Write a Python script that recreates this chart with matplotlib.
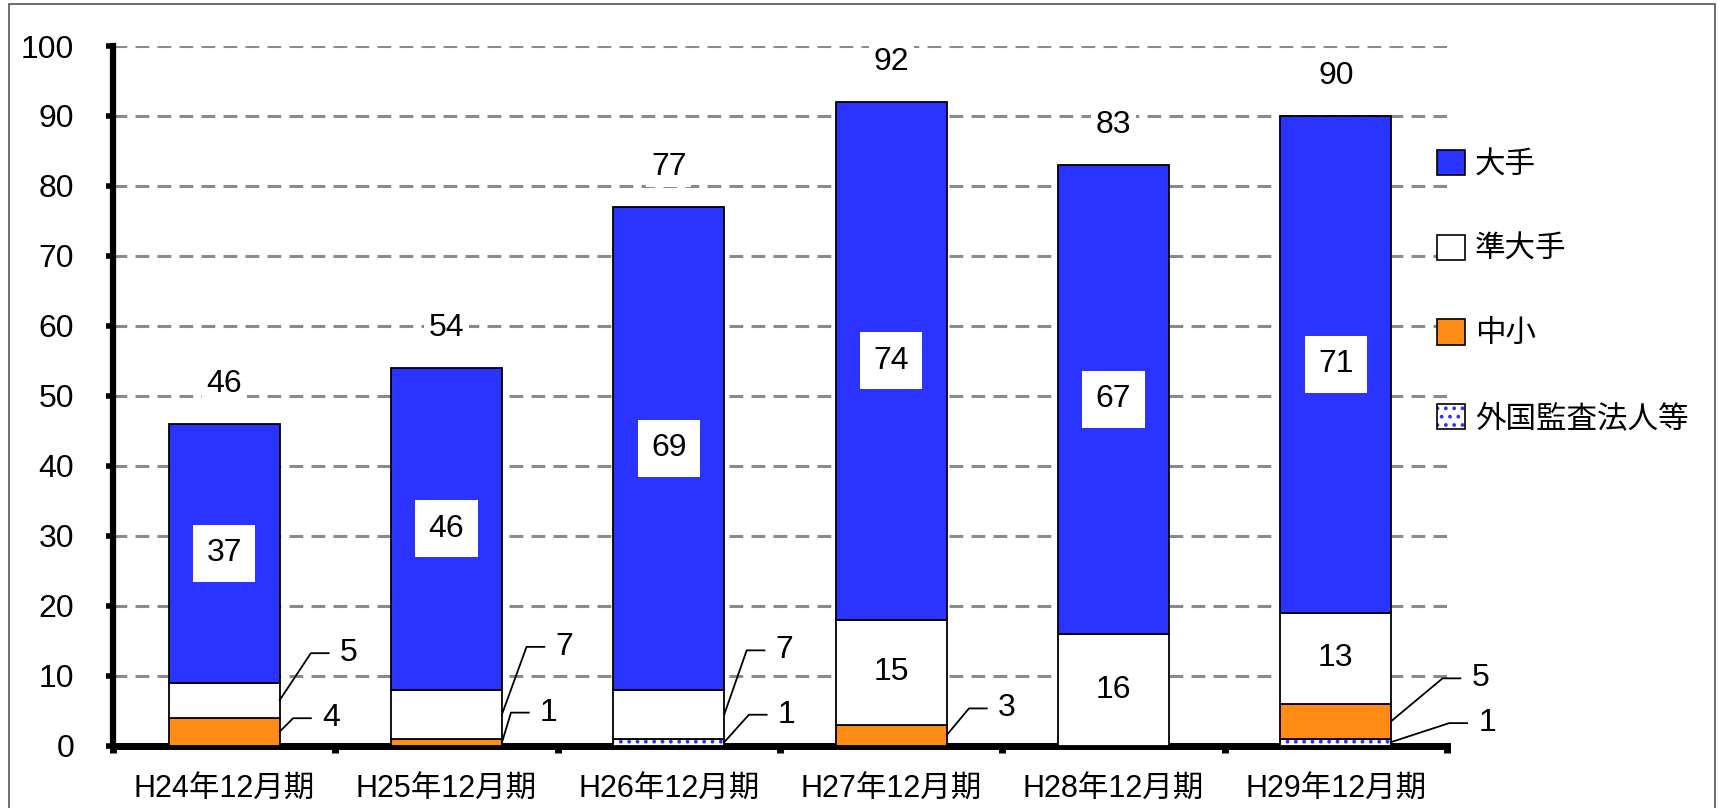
import matplotlib
matplotlib.use('Agg')
import matplotlib.pyplot as plt
from matplotlib import font_manager
from matplotlib.patches import Patch, Rectangle
import numpy as np

# フォント (数字は細め, 漢字は Noto CJK)
names = {f.name for f in font_manager.fontManager.ttflist}
num_font = 'Liberation Sans Narrow' if 'Liberation Sans Narrow' in names else 'Liberation Sans'
plt.rcParams['font.family'] = [num_font, 'Noto Sans CJK JP', 'DejaVu Sans']
plt.rcParams['hatch.linewidth'] = 1.5

# データ
categories = ['H24年12月期', 'H25年12月期', 'H26年12月期', 'H27年12月期', 'H28年12月期', 'H29年12月期']
ote = [37, 46, 69, 74, 67, 71]        # 大手
jun_ote = [5, 7, 7, 15, 16, 13]       # 準大手
chusho = [4, 1, 0, 3, 0, 5]           # 中小
gaikoku = [0, 0, 1, 0, 0, 1]          # 外国監査法人等

c_blue = '#2A33FF'
c_orange = '#FF8A14'
FS = 22     # 漢字
FN = 23     # 数字

x = np.arange(len(categories))
w = 0.5

fig = plt.figure(figsize=(17.19, 8.08), dpi=100)
ax = fig.add_axes([113 / 1719, 1 - 745.5 / 808, (1447 - 113) / 1719, (745.5 - 46) / 808])

# 枠線
fig.patches.append(Rectangle((9 / 1719, -0.01), (1715 - 9) / 1719, 1.01 - 4 / 808,
                             transform=fig.transFigure, fill=False, edgecolor='#555555', lw=1.2))

# 積み上げ
b0 = np.zeros(len(x))
ax.bar(x, gaikoku, w, bottom=b0, color='white', edgecolor=c_blue, hatch='..', lw=0, zorder=3)
ax.bar(x, gaikoku, w, bottom=b0, fill=False, edgecolor='black', lw=1.3, zorder=3)
b1 = b0 + np.array(gaikoku)
ax.bar(x, chusho, w, bottom=b1, color=c_orange, edgecolor='black', lw=1.3, zorder=3)
b2 = b1 + np.array(chusho)
ax.bar(x, jun_ote, w, bottom=b2, color='white', edgecolor='black', lw=1.3, zorder=3)
b3 = b2 + np.array(jun_ote)
ax.bar(x, ote, w, bottom=b3, color=c_blue, edgecolor='black', lw=1.3, zorder=3)
totals = b3 + np.array(ote)

# 大手ラベル (白ボックス), 合計
for i in x:
    ax.text(i, b3[i] + ote[i] / 2, str(ote[i]), ha='center', va='center', fontsize=FN, zorder=5,
            bbox=dict(boxstyle='square,pad=0.42', fc='white', ec='none'))
    ax.text(i, totals[i] + 5.7, str(int(totals[i])), ha='center', va='center', fontsize=FN, zorder=5,
            bbox=dict(boxstyle='square,pad=0.15', fc='white', ec='none'))
    if jun_ote[i] >= 10:
        ax.text(i, b2[i] + jun_ote[i] / 2, str(jun_ote[i]), ha='center', va='center', fontsize=FN, zorder=5)

# 引き出し線ラベル: (カテゴリ, 系列, 文字の横位置, 文字の縦位置)
series = {'jun': (jun_ote, b2), 'chu': (chusho, b1), 'gai': (gaikoku, b0)}
callouts = [(0, 'jun', 0.56, 13.2), (0, 'chu', 0.48, 3.9),
            (1, 'jun', 0.53, 14.1), (1, 'chu', 0.46, 4.7),
            (2, 'jun', 0.52, 13.6), (2, 'gai', 0.53, 4.4),
            (3, 'chu', 0.52, 5.3),
            (5, 'chu', 0.65, 9.6), (5, 'gai', 0.68, 3.2)]
for i, key, dx, ty in callouts:
    vals, base = series[key]
    y0 = base[i] + vals[i] / 2
    ax.plot([i + w / 2, i + dx - 0.17, i + dx - 0.09], [y0, ty, ty], color='black', lw=1.3,
            zorder=4, clip_on=False)
    ax.text(i + dx, ty, str(vals[i]), ha='center', va='center', fontsize=FN, zorder=5,
            bbox=dict(boxstyle='square,pad=0.1', fc='white', ec='none'))

# 軸
ax.set_xlim(-0.5, 5.5)
ax.set_ylim(0, 100)
ax.set_yticks(np.arange(0, 101, 10))
ax.yaxis.grid(True, color='#8a8a8a', lw=2.2, dashes=(4.5, 2.7), zorder=0)
ax.set_axisbelow(True)
ax.set_xticks(x)
ax.set_xticklabels(categories, fontsize=FS)
ax.set_xticks(np.arange(-0.5, 6, 1), minor=True)
ax.tick_params(axis='x', which='major', length=0, pad=21)
ax.tick_params(axis='x', which='minor', length=5, width=5, direction='out')
ax.tick_params(axis='y', length=5, width=4, direction='out', labelsize=FN, pad=23)
for s in ['top', 'right']:
    ax.spines[s].set_visible(False)
ax.spines['left'].set_linewidth(4.5)
ax.spines['bottom'].set_linewidth(5)

# 凡例
handles = [Patch(facecolor=c_blue, edgecolor='black', lw=1.2),
           Patch(facecolor='white', edgecolor='black', lw=1.2),
           Patch(facecolor=c_orange, edgecolor='black', lw=1.2),
           (Patch(facecolor='white', edgecolor=c_blue, hatch='..', lw=0),
            Patch(fill=False, edgecolor='black', lw=1.2))]
labels = ['大手', '準大手', '中小', '外国監査法人等']
fig.legend(handles, labels, loc='upper left', bbox_to_anchor=(1437 / 1719, 1 - 150 / 808),
           frameon=False, fontsize=FS, handlelength=0.9, handleheight=0.9,
           handletextpad=0.35, labelspacing=1.78, borderpad=0, borderaxespad=0)

fig.savefig('out.png', dpi=100)
